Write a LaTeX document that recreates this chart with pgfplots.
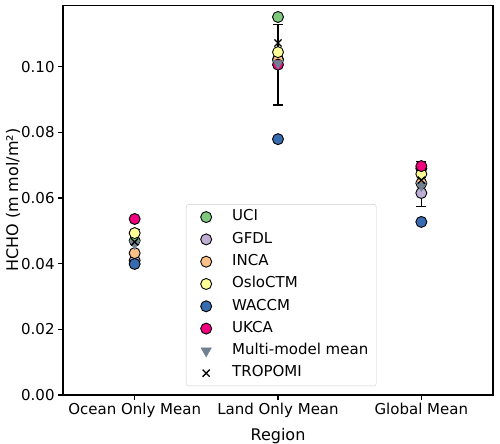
\documentclass[border=0pt]{standalone}
\usepackage{fontspec}
\setmainfont{DejaVu Sans}
\usepackage{pgfplots}
\pgfplotsset{compat=1.18}
\definecolor{cUCI}{HTML}{7FC97F}
\definecolor{cGFDL}{HTML}{BEAED4}
\definecolor{cINCA}{HTML}{FDC086}
\definecolor{cOslo}{HTML}{FFFF99}
\definecolor{cWACCM}{HTML}{386CB0}
\definecolor{cUKCA}{HTML}{F0027F}
\definecolor{cMean}{HTML}{708090}
\begin{document}
\begin{tikzpicture}
\path[use as bounding box] (-63bp,-49bp) rectangle (437bp,395bp);
\begin{axis}[at={(0,0)}, anchor=south west, scale only axis,
  width=430bp, height=389.5bp,
  xmin=-0.5, xmax=2.5, ymin=0, ymax=0.1186,
  xtick={0,1,2}, xticklabels={Ocean Only Mean, Land Only Mean, Global Mean},
  ytick={0,0.02,0.04,0.06,0.08,0.10},
  scaled y ticks=false,
  yticklabel style={/pgf/number format/fixed, /pgf/number format/precision=2, /pgf/number format/fixed zerofill},
  /pgf/number format/assume math mode=true,
  tick align=outside, tick pos=left, major tick length=4.9bp,
  tick style={black, line width=1.1bp},
  axis line style={line width=1.1bp},
  ticklabel style={font=\fontsize{15bp}{18bp}\selectfont},
  xlabel={Region}, ylabel={HCHO (m mol/m²)},
  every axis x label/.style={at={(axis description cs:0.5,-0.105)}, anchor=center, font=\fontsize{16bp}{19bp}\selectfont},
  every axis y label/.style={at={(axis description cs:-0.1163,0.5)}, rotate=90, anchor=center, font=\fontsize{16bp}{19bp}\selectfont},
  legend cell align=left,
  legend image code/.code={\path[draw=none, fill=none] (0bp,-3bp) rectangle (38bp,3bp); \draw[#1, fill opacity=1, rounded corners=0pt] plot coordinates {(16bp,0bp)};},
  legend style={at={(axis description cs:0.286,0.490)}, anchor=north west,
    draw=black!20, rounded corners=2.5bp, fill=white, fill opacity=0.8, text opacity=1,
    font=\fontsize{15bp}{18bp}\selectfont, inner xsep=4bp, inner ysep=4bp,
    row sep=4.8bp,
    nodes={text height=10.5bp, text depth=3bp, inner ysep=2bp, inner xsep=4bp}},
]
\addplot[only marks, mark=*, mark size=5.5bp, mark options={draw=black, fill=cUCI, line width=0.9bp}]
  coordinates {(0,0.0470) (1,0.1151) (2,0.0690)};
\addlegendentry{UCI}
\addplot[only marks, mark=*, mark size=5.5bp, mark options={draw=black, fill=cGFDL, line width=0.9bp}]
  coordinates {(0,0.0410) (1,0.1022) (2,0.0615)};
\addlegendentry{GFDL}
\addplot[only marks, mark=*, mark size=5.5bp, mark options={draw=black, fill=cINCA, line width=0.9bp}]
  coordinates {(0,0.0432) (1,0.1020) (2,0.0645)};
\addlegendentry{INCA}
\addplot[only marks, mark=*, mark size=5.5bp, mark options={draw=black, fill=cOslo, line width=0.9bp}]
  coordinates {(0,0.0493) (1,0.1044) (2,0.0673)};
\addlegendentry{OsloCTM}
\addplot[only marks, mark=*, mark size=5.5bp, mark options={draw=black, fill=cWACCM, line width=0.9bp}]
  coordinates {(0,0.0399) (1,0.0779) (2,0.0527)};
\addlegendentry{WACCM}
\addplot[only marks, mark=*, mark size=5.5bp, mark options={draw=black, fill=cUKCA, line width=0.9bp}]
  coordinates {(0,0.0536) (1,0.1006) (2,0.0697)};
\addlegendentry{UKCA}
\addplot[only marks, mark=triangle*, mark size=6bp, mark options={rotate=180, draw=cMean, fill=cMean}]
  coordinates {(0,0.0460) (1,0.1010) (2,0.0638)};
\addlegendentry{Multi-model mean}
\addplot[only marks, mark=x, mark size=5bp, mark options={draw=black, line width=1.3bp},
  error bars/.cd, y dir=both, y explicit,
  error bar style={black, line width=1.3bp},
  error mark options={rotate=90, mark size=5bp, line width=1.3bp, black}]
  coordinates {(0,0.0466) += (0,0.0038) -= (0,0.0060)
               (1,0.1072) += (0,0.0057) -= (0,0.0189)
               (2,0.0654) += (0,0.0057) -= (0,0.0079)};
\addlegendentry{TROPOMI}
\end{axis}
\end{tikzpicture}
\end{document}
